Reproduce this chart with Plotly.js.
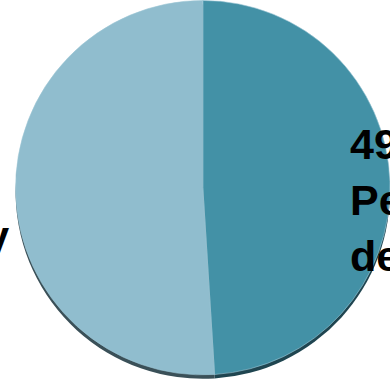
<!DOCTYPE html>
<html>
<head>
<meta charset="utf-8">
<script src="https://cdn.plot.ly/plotly-3.0.1.min.js"></script>
<style>html,body{margin:0;padding:0;background:#fff;}#chart{width:390px;height:383px;}</style>
</head>
<body>
<div id="chart"></div>
<script>
// Data
var categories = ["Personas desempleadas", "Personas ocupadas hoy"];
var shares = [49, 51];
var labelLines = [["Personas", "desempleadas"], ["Personas", "ocupadas hoy"]];

// Styles
var sliceColors = ["#4391a6", "#90bdce"];
var rimColors = ["#1f4550", "#3a5058"];

var dom = {x: [0.04, 1], y: [0.02, 1]};
var shift = 4 / 383;

var rim = {
  type: "pie", values: shares, labels: categories, sort: false,
  direction: "clockwise", rotation: 0, textinfo: "none", hoverinfo: "skip",
  marker: {colors: rimColors, line: {width: 0}},
  domain: {x: dom.x, y: [dom.y[0] - shift, dom.y[1] - shift]},
  showlegend: false
};
var pie = {
  type: "pie", values: shares, labels: categories, sort: false,
  direction: "clockwise", rotation: 0, textinfo: "none",
  marker: {colors: sliceColors, line: {color: "#9cc6d5", width: 0.6}},
  domain: dom, showlegend: false
};

function labelText(i) {
  return shares[i] + "%<br>" + labelLines[i].join("<br>");
}
var font = {family: "Liberation Sans, Arial, sans-serif", size: 43, color: "#000", weight: 700};

var layout = {
  width: 390, height: 383,
  margin: {l: 0, r: 0, t: 0, b: 0},
  paper_bgcolor: "#fff",
  showlegend: false,
  annotations: [
    {text: labelText(0), xref: "paper", yref: "paper", x: 348 / 390, y: 1 - 200 / 383,
     xanchor: "left", yanchor: "middle", align: "left", showarrow: false, font: font},
    {text: labelText(1), xref: "paper", yref: "paper", x: 11 / 390, y: 1 - 180 / 383,
     xanchor: "right", yanchor: "middle", align: "left", showarrow: false, font: font}
  ]
};

Plotly.newPlot("chart", [rim, pie], layout, {displayModeBar: false, staticPlot: true});
</script>
</body>
</html>
